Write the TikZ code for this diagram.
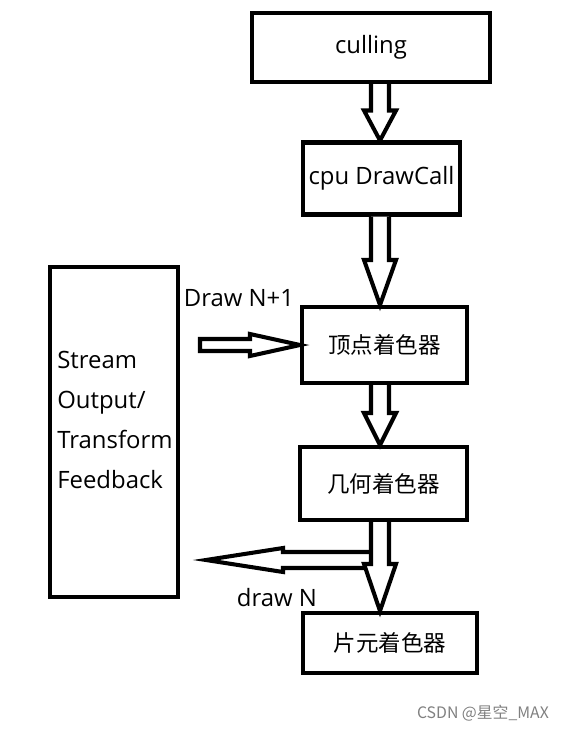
\documentclass[tikz,border=0pt]{standalone}
\usepackage{fontspec}
\setmainfont{Open Sans}
\newfontfamily\cjk{Noto Sans CJK SC}
\usetikzlibrary{calc, positioning}

\newcommand{\hollowdown}[4]{%
	\coordinate (s) at (#1.south -| #3);
	\coordinate (e) at (#2.north -| #3);
	\draw[hollow] ($(s)+(-9,0)$) -- ($(e)+(-9,-#4)$) -- ($(e)+(-16,-#4)$) -- (e)
		-- ($(e)+(16,-#4)$) -- ($(e)+(9,-#4)$) -- ($(s)+(9,0)$);
}

\begin{document}
\begin{tikzpicture}[x=0.02cm, y=-0.02cm]
				\tikzstyle{box} = [draw=black, line width=2.3pt, rectangle, inner sep=0pt, font=\fontsize{13.6}{16}\selectfont]
				\tikzstyle{cbox} = [box, font=\cjk\fontsize{12.8}{16}\selectfont]
				\tikzstyle{hollow} = [draw=black, fill=white, line width=2.3pt, line join=miter]
				\tikzstyle{plain} = [draw=none, font=\fontsize{13.6}{16}\selectfont]
				
				\useasboundingbox (0,0) rectangle (564,730);
				
				\node[box, minimum width=4.76cm, minimum height=1.38cm] at (371, 47.5) (culling) {culling};
				\node[box, minimum width=3.14cm, minimum height=1.44cm] at (381.5, 178.5) (cpu) {cpu DrawCall};
				\node[cbox, minimum width=3.3cm, minimum height=1.52cm] at (384.5, 345) (vertex) {顶点着色器};
				\node[cbox, minimum width=3.34cm, minimum height=1.46cm] at (383.5, 483.5) (geom) {几何着色器};
				\node[cbox, minimum width=3.48cm, minimum height=1.2cm] at (390, 643) (frag) {片元着色器};
				\node[box, minimum width=2.56cm, minimum height=6.6cm] at (114, 432) (stream) {};
				\node[plain, anchor=west, align=left, inner sep=0pt, font=\fontsize{13.6}{22.7}\selectfont] at (57, 420) (streamtxt) {Stream\\Output/\\Transform\\Feedback};
				
				\node[plain] at (239, 298) (lblnext) {Draw N+1};
				\node[plain] at (277, 598) (lbln) {draw N};
				\node[plain, text=gray, font=\cjk\fontsize{9}{11}\selectfont] at (483, 713) (mark) {CSDN @星空\_MAX};
				
				\coordinate (spine) at (380, 0);
				\coordinate (n1tail) at (200, 345);
				\coordinate (ntail) at (372, 560);
				\coordinate (nhead) at (206, 560);
				
				\hollowdown{culling}{cpu}{spine}{30}
				\hollowdown{cpu}{vertex}{spine}{45}
				\hollowdown{vertex}{geom}{spine}{32}
				
				\draw[hollow] ($(n1tail)+(0,-6)$) -- ($(vertex.west)+(-50,-6)$) -- ($(vertex.west)+(-50,-11)$) -- (vertex.west)
					-- ($(vertex.west)+(-50,11)$) -- ($(vertex.west)+(-50,6)$) -- ($(n1tail)+(0,6)$) -- cycle;
				\draw[hollow] (ntail |- 0,552) -- ($(nhead)+(77,-8)$) -- ($(nhead)+(77,-12)$) -- (nhead)
					-- ($(nhead)+(77,12)$) -- ($(nhead)+(77,8)$) -- (ntail |- 0,568) -- cycle;
				
				\hollowdown{geom}{frag}{spine}{47}
\end{tikzpicture}
\end{document}
